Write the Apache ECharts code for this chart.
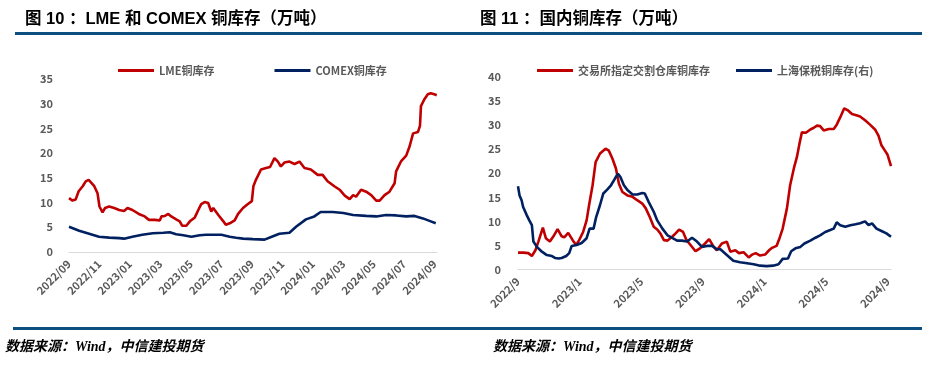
<!DOCTYPE html>
<html>
<head>
<meta charset="utf-8">
<script src="https://cdn.jsdelivr.net/npm/echarts@6/dist/echarts.min.js"></script>
<style>
  html, body { margin: 0; padding: 0; background: #fff; }
  #wrap { position: relative; width: 939px; height: 366px; overflow: hidden; }
  #chart { position: absolute; left: 0; top: 0; width: 939px; height: 366px; }
  .title { position: absolute; top: 8px; font: bold 16.5px/20px "Liberation Sans", "Noto Sans CJK SC", sans-serif; color: #000; white-space: nowrap; }
  .bar { position: absolute; height: 3px; background: #0C4E80; }
  .foot { position: absolute; top: 335px; font: italic bold 14px/20px "Noto Sans CJK SC", sans-serif; color: #000; white-space: nowrap; }
  .foot .w { font-family: "Liberation Serif", serif; }
</style>
</head>
<body>
<div id="wrap">
  <div id="chart"></div>
  <div class="title" style="left:25px">图 10 ：LME 和 COMEX 铜库存（万吨）</div>
  <div class="title" style="left:480px">图 11 ：国内铜库存（万吨）</div>
  <div class="bar" style="left:15px;width:455px;top:32px"></div>
  <div class="bar" style="left:470px;width:452px;top:32px"></div>
  <div class="bar" style="left:13px;width:457px;top:327px"></div>
  <div class="bar" style="left:470px;width:452px;top:327px"></div>
  <div class="foot" style="left:5px">数据来源：<span class="w">Wind</span>，中信建投期货</div>
  <div class="foot" style="left:493px">数据来源：<span class="w">Wind</span>，中信建投期货</div>
</div>
<script>
// ---- Left chart: LME & COMEX copper stocks (10k t) ----
const leftTickLabels = ['2022/09','2022/11','2023/01','2023/03','2023/05','2023/07','2023/09','2023/11','2024/01','2024/03','2024/05','2024/07','2024/09'];
const lmeDates = ['2022-09-01','2022-09-08','2022-09-14','2022-09-20','2022-09-28','2022-10-04','2022-10-10','2022-10-14','2022-10-21','2022-10-28','2022-11-01','2022-11-07','2022-11-12','2022-11-20','2022-11-30','2022-12-10','2022-12-20','2022-12-27','2023-01-06','2023-01-19','2023-01-31','2023-02-08','2023-02-18','2023-02-28','2023-03-03','2023-03-10','2023-03-17','2023-03-23','2023-04-02','2023-04-09','2023-04-14','2023-04-22','2023-04-29','2023-05-09','2023-05-16','2023-05-22','2023-05-29','2023-06-05','2023-06-11','2023-06-15','2023-06-25','2023-07-05','2023-07-10','2023-07-18','2023-07-28','2023-08-04','2023-08-14','2023-08-24','2023-09-01','2023-09-04','2023-09-09','2023-09-19','2023-09-29','2023-10-07','2023-10-16','2023-10-23','2023-10-29','2023-11-05','2023-11-15','2023-11-25','2023-12-05','2023-12-15','2023-12-28','2024-01-11','2024-01-21','2024-01-31','2024-02-13','2024-02-23','2024-03-04','2024-03-14','2024-03-21','2024-03-27','2024-04-06','2024-04-16','2024-04-26','2024-05-06','2024-05-13','2024-05-23','2024-06-02','2024-06-12','2024-06-15','2024-06-25','2024-07-05','2024-07-12','2024-07-19','2024-07-29','2024-08-02','2024-08-04','2024-08-11','2024-08-18','2024-08-24','2024-08-31','2024-09-05'];
const lmeValues = [10.9,10.4,10.6,12.3,13.3,14.3,14.6,14.3,13.4,11.9,9.2,8.0,8.9,9.2,8.9,8.5,8.3,8.9,8.5,7.7,7.2,6.5,6.5,6.4,7.2,7.3,7.7,7.2,6.6,6.2,5.3,5.3,6.2,7.0,8.5,9.7,10.1,9.9,8.2,8.9,7.5,6.2,5.5,5.8,6.4,7.7,8.9,9.7,10.3,13.3,14.6,16.7,17.0,17.2,19.0,18.3,17.3,18.1,18.3,17.8,18.3,17.0,16.7,15.6,15.6,14.3,13.3,12.6,11.4,10.7,11.5,11.2,12.6,12.2,11.5,10.4,10.4,11.5,12.2,13.9,16.3,18.4,19.5,21.4,24.0,24.3,25.5,29.5,30.9,31.9,32.1,31.9,31.7];
const comexDates = ['2022-09-01','2022-09-21','2022-10-11','2022-10-31','2022-11-20','2022-12-10','2022-12-20','2023-01-06','2023-01-26','2023-02-15','2023-03-07','2023-03-20','2023-04-02','2023-04-16','2023-05-02','2023-05-19','2023-06-01','2023-07-01','2023-07-18','2023-07-31','2023-08-14','2023-09-03','2023-09-26','2023-10-13','2023-10-26','2023-11-15','2023-11-28','2023-12-18','2024-01-04','2024-01-17','2024-02-10','2024-03-01','2024-03-21','2024-04-16','2024-05-06','2024-05-26','2024-06-15','2024-07-05','2024-07-22','2024-08-08','2024-08-24','2024-09-03'];
const comexValues = [5.1,4.3,3.7,3.1,2.9,2.8,2.7,3.1,3.5,3.8,3.9,4.0,3.6,3.4,3.1,3.4,3.5,3.5,3.1,2.9,2.7,2.6,2.5,3.2,3.7,3.9,5.1,6.6,7.2,8.1,8.1,7.9,7.5,7.3,7.2,7.5,7.4,7.2,7.3,6.8,6.2,5.8];

// ---- Right chart: domestic copper stocks (10k t) ----
const rightTickLabels = ['2022/9','2023/1','2023/5','2023/9','2024/1','2024/5','2024/9'];
const shfeDates = ['2022-09-01','2022-09-11','2022-09-21','2022-09-28','2022-10-05','2022-10-11','2022-10-20','2022-10-26','2022-11-03','2022-11-10','2022-11-18','2022-11-26','2022-12-01','2022-12-09','2022-12-18','2022-12-25','2022-12-31','2023-01-08','2023-01-15','2023-01-20','2023-01-27','2023-02-02','2023-02-10','2023-02-20','2023-02-26','2023-03-05','2023-03-12','2023-03-18','2023-03-25','2023-04-04','2023-04-14','2023-04-23','2023-05-03','2023-05-10','2023-05-18','2023-05-26','2023-06-02','2023-06-08','2023-06-15','2023-06-22','2023-07-02','2023-07-08','2023-07-15','2023-07-23','2023-07-30','2023-08-07','2023-08-17','2023-08-26','2023-09-05','2023-09-13','2023-09-22','2023-09-28','2023-10-08','2023-10-18','2023-10-25','2023-11-04','2023-11-11','2023-11-20','2023-11-30','2023-12-07','2023-12-14','2023-12-23','2024-01-02','2024-01-10','2024-01-16','2024-01-25','2024-01-31','2024-02-06','2024-02-14','2024-02-20','2024-02-27','2024-03-04','2024-03-09','2024-03-14','2024-03-22','2024-03-31','2024-04-06','2024-04-13','2024-04-19','2024-04-26','2024-05-06','2024-05-16','2024-05-22','2024-05-29','2024-06-06','2024-06-14','2024-06-21','2024-07-01','2024-07-07','2024-07-17','2024-07-27','2024-08-06','2024-08-13','2024-08-19','2024-08-26','2024-08-31','2024-09-07'];
const shfeValues = [3.5,3.5,3.4,2.8,4.0,5.8,8.7,6.5,5.8,6.9,8.4,6.9,6.7,7.6,6.1,5.1,6.1,7.8,10.2,13.4,17.5,22.3,24.1,25.1,24.7,23.0,21.0,17.8,16.1,15.4,15.1,14.4,13.7,12.7,10.9,8.9,8.3,7.5,6.1,6.0,6.9,7.5,8.3,7.8,6.1,5.1,3.8,4.4,5.4,6.3,4.7,4.0,5.4,5.8,3.7,4.0,3.4,3.6,2.5,3.1,3.4,2.9,3.1,4.0,4.5,4.9,6.5,8.5,12.7,17.5,21.0,23.4,26.1,28.5,28.4,29.1,29.4,29.9,29.8,28.9,29.2,29.2,30.1,31.6,33.5,33.0,32.3,32.0,31.8,31.0,30.1,29.1,27.8,25.8,24.7,23.9,21.5];
const bondedDates = ['2022-09-01','2022-09-04','2022-09-08','2022-09-11','2022-09-18','2022-09-23','2022-09-28','2022-10-01','2022-10-08','2022-10-18','2022-10-28','2022-11-07','2022-11-13','2022-11-20','2022-11-26','2022-12-05','2022-12-11','2022-12-16','2022-12-26','2023-01-05','2023-01-15','2023-01-21','2023-01-29','2023-02-03','2023-02-10','2023-02-16','2023-02-23','2023-03-02','2023-03-10','2023-03-16','2023-03-21','2023-03-28','2023-04-04','2023-04-14','2023-04-23','2023-05-03','2023-05-08','2023-05-16','2023-05-26','2023-06-02','2023-06-12','2023-06-22','2023-07-02','2023-07-11','2023-07-21','2023-07-31','2023-08-10','2023-08-20','2023-08-30','2023-09-09','2023-09-19','2023-09-28','2023-10-05','2023-10-18','2023-10-31','2023-11-13','2023-11-27','2023-12-10','2023-12-23','2024-01-05','2024-01-18','2024-01-29','2024-02-06','2024-02-16','2024-02-22','2024-03-01','2024-03-11','2024-03-19','2024-03-31','2024-04-10','2024-04-19','2024-04-29','2024-05-09','2024-05-16','2024-05-22','2024-05-29','2024-06-08','2024-06-18','2024-06-28','2024-07-07','2024-07-17','2024-07-24','2024-07-31','2024-08-09','2024-08-19','2024-08-29','2024-09-07'];
const bondedValues = [17.3,15.4,14.4,13.0,11.3,10.2,9.2,5.8,4.7,3.7,3.0,2.8,2.4,2.3,2.4,2.8,3.4,4.9,5.1,5.5,6.5,8.5,8.5,10.9,13.4,15.8,16.6,17.5,18.9,19.9,19.2,17.5,16.5,15.6,15.6,15.9,15.8,14.0,12.0,10.2,8.5,7.1,6.5,6.0,6.0,5.8,6.6,5.8,4.7,4.9,4.9,4.2,4.2,3.0,1.8,1.5,1.3,1.1,0.8,0.7,0.8,1.1,2.2,2.3,3.8,4.4,4.7,5.4,6.0,6.6,7.1,7.8,8.2,8.5,9.8,9.2,8.9,9.2,9.4,9.6,10.0,9.2,9.6,8.5,8.0,7.5,6.8];

// month offset since 2022-09-01
function toMonth(s) {
  const p = s.split('-').map(Number);
  const dim = new Date(p[0], p[1], 0).getDate();
  return (p[0] - 2022) * 12 + (p[1] - 9) + (p[2] - 1) / dim;
}
function pairs(dates, vals) { return dates.map((d, i) => [toMonth(d), vals[i]]); }
function labelFrom(list, step) {
  return function (v) {
    const i = v / step;
    if (Math.abs(i - Math.round(i)) > 1e-6) return '';
    return list[Math.round(i)] || '';
  };
}

const gray = '#595959';
const fontFam = '"Noto Sans CJK SC", "Liberation Sans", sans-serif';
const axisText = { color: gray, fontWeight: 'bold', fontSize: 11, fontFamily: fontFam };
const red = '#C00000', navy = '#002060';

function xAxisCfg(gridIndex, max, step, list) {
  return {
    type: 'value', gridIndex: gridIndex, min: 0, max: max, interval: step,
    axisLine: { show: true, lineStyle: { color: '#D9D9D9', width: 1 } },
    axisTick: { show: false }, splitLine: { show: false },
    axisLabel: Object.assign({ rotate: 45, margin: 10, formatter: labelFrom(list, step), showMaxLabel: false }, axisText)
  };
}
function yAxisCfg(gridIndex, max, margin) {
  return {
    type: 'value', gridIndex: gridIndex, min: 0, max: max, interval: 5,
    axisLine: { show: false }, axisTick: { show: false }, splitLine: { show: false },
    axisLabel: Object.assign({ margin: margin }, axisText)
  };
}
function lineSeries(name, xi, data, color) {
  return {
    name: name, type: 'line', xAxisIndex: xi, yAxisIndex: xi, data: data,
    showSymbol: false, symbol: 'none', smooth: false,
    lineStyle: { color: color, width: 2.6 }, itemStyle: { color: color },
    emphasis: { disabled: true }
  };
}
const legendText = { color: gray, fontWeight: 'bold', fontSize: 11, fontFamily: fontFam };

const chart = echarts.init(document.getElementById('chart'), null, { renderer: 'canvas' });
chart.setOption({
  animation: false,
  backgroundColor: 'transparent',
  grid: [
    { left: 69, right: 502, top: 79, bottom: 114 },
    { left: 518, right: 48, top: 77, bottom: 96.5 }
  ],
  legend: [
    { data: ['LME铜库存', 'COMEX铜库存'], left: 113, top: 60, icon: 'rect', itemWidth: 36, itemHeight: 3, itemGap: 60, textStyle: legendText },
    { data: ['交易所指定交割仓库铜库存', '上海保税铜库存(右)'], left: 532, top: 60, icon: 'rect', itemWidth: 36, itemHeight: 3, itemGap: 26, textStyle: legendText }
  ],
  xAxis: [
    xAxisCfg(0, 24.15, 2, leftTickLabels),
    xAxisCfg(1, 24.2, 4, rightTickLabels)
  ],
  yAxis: [
    yAxisCfg(0, 35, 16),
    yAxisCfg(1, 40, 17)
  ],
  series: [
    lineSeries('LME铜库存', 0, pairs(lmeDates, lmeValues), red),
    lineSeries('COMEX铜库存', 0, pairs(comexDates, comexValues), navy),
    lineSeries('交易所指定交割仓库铜库存', 1, pairs(shfeDates, shfeValues), red),
    lineSeries('上海保税铜库存(右)', 1, pairs(bondedDates, bondedValues), navy)
  ]
});
</script>
</body>
</html>
